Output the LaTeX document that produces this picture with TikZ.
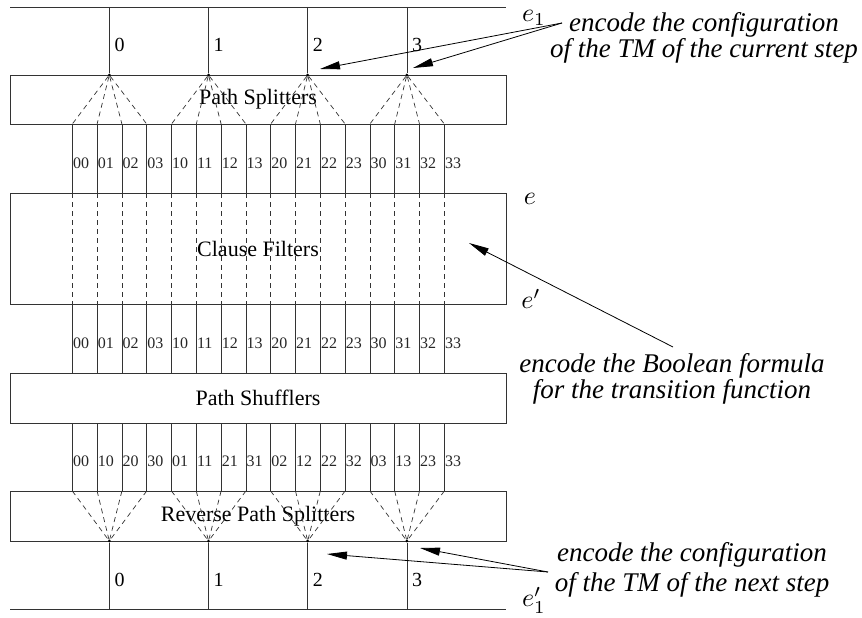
\documentclass[tikz,border=0pt]{standalone}
\usepackage{fontspec}
\setmainfont{Liberation Serif}
\usepackage{graphicx}
\usetikzlibrary{arrows.meta}
\newcommand{\biglab}[1]{\scalebox{2.6}{$#1$}}
\begin{document}
\begin{tikzpicture}[x=1pt,y=-1pt,
  ln/.style={draw=black!80, line width=0.8pt},
  dsh/.style={draw=black!80, line width=0.7pt, dash pattern=on 5pt off 4pt},
  box/.style={ln, minimum width=496pt, inner sep=0pt, font=\fontsize{22}{22}\selectfont},
  wlab/.style={anchor=west, inner sep=0pt, font=\fontsize{16}{16}\selectfont, text=black!85},
  nlab/.style={anchor=west, inner sep=0pt, font=\fontsize{20}{20}\selectfont},
  elab/.style={inner sep=0pt},
  note/.style={align=center, inner sep=0pt, font=\fontsize{27}{24}\selectfont\itshape},
  arr/.style={draw=black, line width=0.8pt, -{Triangle[length=20pt,width=8pt]}},
  apex/.style={circle, fill=black, inner sep=0pt, minimum size=3pt},
]
\useasboundingbox (0,0) rectangle (862,618);

\node[box, minimum height=49pt] (ps) at (258,99.5) {Path Splitters};
\node[box, minimum height=111pt] (cf) at (258,248.5) {Clause Filters};
\node[box, minimum height=50pt] (psh) at (258,398) {Path Shufflers};
\node[box, minimum height=50pt] (rps) at (258,516) {Reverse Path Splitters};

\coordinate (tl) at (10,7); \coordinate (tr) at (506,7);
\draw[ln] (tl) -- (tr);
\coordinate (bl) at (10,609); \coordinate (br) at (506,609);
\draw[ln] (bl) -- (br);

\foreach \a in {0,...,3}{
  \pgfmathsetmacro\gx{109.3+99.2*\a}
  \node[apex] (top\a) at (\gx,75) {};
  \coordinate (topin\a) at (\gx,7);
  \draw[ln] (topin\a) -- (top\a);
  \node[nlab] (tn\a) at (\gx+5,45) {\a};
  \node[apex] (bot\a) at (\gx,541) {};
  \coordinate (botout\a) at (\gx,609);
  \draw[ln] (bot\a) -- (botout\a);
  \node[nlab] (bn\a) at (\gx+5,580) {\a};
  \foreach \b in {0,...,3}{
    \pgfmathsetmacro\wx{72.3+24.8*(4*\a+\b)}
    \coordinate (wa\a\b) at (\wx,124);
    \coordinate (wb\a\b) at (\wx,193);
    \coordinate (wc\a\b) at (\wx,304);
    \coordinate (wd\a\b) at (\wx,373);
    \coordinate (we\a\b) at (\wx,423);
    \coordinate (wf\a\b) at (\wx,491);
    \draw[dsh] (top\a) -- (wa\a\b);
    \draw[ln] (wa\a\b) -- (wb\a\b);
    \draw[dsh] (wb\a\b) -- (wc\a\b);
    \draw[ln] (wc\a\b) -- (wd\a\b);
    \draw[ln] (we\a\b) -- (wf\a\b);
    \draw[dsh] (wf\a\b) -- (bot\a);
    \node[wlab] (la\a\b) at (\wx+0.5,163) {\a\b};
    \node[wlab] (lb\a\b) at (\wx+0.5,343) {\a\b};
    \node[wlab] (lc\a\b) at (\wx+0.5,461) {\b\a};
  }
}

\node[elab] (e1) at (534,18) {\biglab{e_1}};
\node[elab] (e) at (530,199) {\biglab{e}};
\node[elab] (ep) at (531,299) {\biglab{e'}};
\node[elab] (e1p) at (534,600) {\biglab{e'_1}};

\node[note] (n1) at (704,38) {encode the configuration\\of the TM of the current step};
\coordinate (n1t) at (562,23);
\coordinate (h1) at (320,69);
\coordinate (h2) at (413,68);
\draw[arr] (n1t) -- (h1);
\draw[arr] (n1t) -- (h2);

\node[note] (n2) at (672,379) {encode the Boolean formula\\for the transition function};
\coordinate (n2t) at (673,347);
\coordinate (h3) at (469,243);
\draw[arr] (n2t) -- (h3);

\node[note, font=\fontsize{27}{30}\selectfont\itshape] (n3) at (692,570) {encode the configuration\\of the TM of the next step};
\coordinate (n3t) at (548,572);
\coordinate (h4) at (327,554);
\coordinate (h5) at (420,548);
\draw[arr] (n3t) -- (h4);
\draw[arr] (n3t) -- (h5);
\end{tikzpicture}
\end{document}
